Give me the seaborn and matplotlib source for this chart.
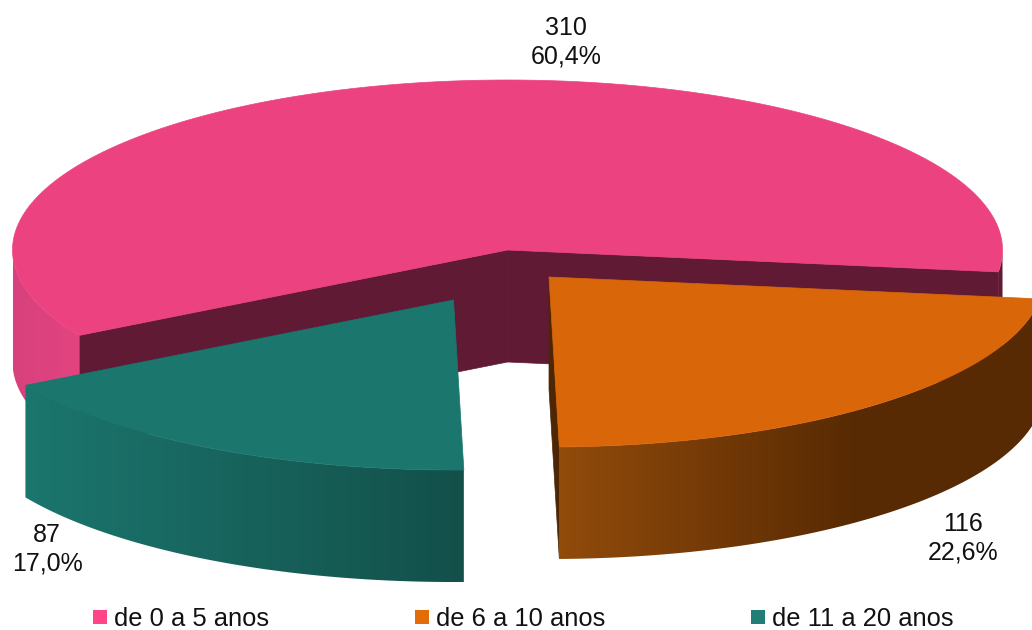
import numpy as np
import matplotlib
matplotlib.use('Agg')
import matplotlib.pyplot as plt
from matplotlib.colors import ListedColormap
from matplotlib.patches import Polygon
import seaborn as sns

# Data
categories = ['de 0 a 5 anos', 'de 6 a 10 anos', 'de 11 a 20 anos']
counts = [310, 116, 87]
percents = ['60,4%', '22,6%', '17,0%']

sns.set_theme(style='white')
plt.rcParams['font.family'] = ['Liberation Sans', 'DejaVu Sans']

top_colors = ['#EC4380', '#D96608', '#1B766E']
legend_colors = ['#FF4488', '#E36C09', '#1F7F76']
inner_colors = ['#601A33', '#4F2603', '#135049']

# Pie geometry in pixels
rx, ry, depth = 495, 170, 112
start = -7.4
centers = [(507.5, 250), (549, 277), (453.5, 300)]

# Slice angles from the values, drawn counter-clockwise: pink, teal, orange
shares = np.array(counts) / sum(counts) * 360
spans = {0: (start, start + shares[0]),
         2: (start + shares[0], start + shares[0] + shares[2]),
         1: (start + shares[0] + shares[2], start + 360)}


def rim(i, a0, a1, n=120):
    t = np.radians(np.linspace(a0, a1, n))
    cx, cy = centers[i]
    return np.column_stack([cx + rx * np.cos(t), cy - ry * np.sin(t)])


def radial_wall(ax, i, angle, color, z):
    cx, cy = centers[i]
    edge = rim(i, angle, angle, 1)[0]
    pts = [(cx, cy), edge, (edge[0], edge[1] + depth), (cx, cy + depth)]
    ax.add_patch(Polygon(pts, closed=True, fc=color, ec=color, lw=0.5, zorder=z))


def outer_wall(ax, i, a0, a1, light, dark, z, flat_after=1.0):
    # shaded side of a slice: a left to right gradient clipped to the wall shape
    pts = rim(i, a0, a1, 120)
    shape = np.vstack([pts, pts[::-1] + [0, depth]])
    lo, hi = shape[:, 0].min(), shape[:, 0].max()
    bottom, top = shape[:, 1].max(), shape[:, 1].min()
    cmap = ListedColormap(sns.blend_palette([light, dark], 256))
    grad = np.clip(np.linspace(0, 1, 512) / flat_after, 0, 1).reshape(1, -1)
    clip = Polygon(shape, closed=True, fc='none', ec='none', transform=ax.transData)
    ax.add_patch(clip)
    im = ax.imshow(grad, cmap=cmap, vmin=0, vmax=1, aspect='auto',
                   extent=(lo, hi, bottom, top), zorder=z, interpolation='bilinear')
    im.set_clip_path(clip)


fig = plt.figure(figsize=(10.32, 6.3), dpi=100)
ax = fig.add_axes([0, 0, 1, 1])

# pink slice: side walls first, then top
a0, a1 = spans[0]
outer_wall(ax, 0, a0, 0, inner_colors[0], inner_colors[0], 1)
radial_wall(ax, 0, a0, inner_colors[0], 1)
radial_wall(ax, 0, a1, inner_colors[0], 1)
outer_wall(ax, 0, 180, a1, '#D8417D', '#E34480', 1)
ax.add_patch(Polygon(np.vstack([centers[0], rim(0, a0, a1, 240)]), closed=True,
                     fc=top_colors[0], ec=top_colors[0], lw=0.5, zorder=2))

# orange slice
a0, a1 = spans[1]
radial_wall(ax, 1, a0, inner_colors[1], 3)
outer_wall(ax, 1, a0, a1, '#914B0B', '#582A03', 3, flat_after=0.62)
ax.add_patch(Polygon(np.vstack([centers[1], rim(1, a0, a1)]), closed=True,
                     fc=top_colors[1], ec=top_colors[1], lw=0.5, zorder=4))

# teal slice
a0, a1 = spans[2]
outer_wall(ax, 2, a0, a1, '#1B766E', '#13504A', 5)
ax.add_patch(Polygon(np.vstack([centers[2], rim(2, a0, a1)]), closed=True,
                     fc=top_colors[2], ec=top_colors[2], lw=0.5, zorder=6))

# value labels
label_pos = [(566, 42.5), (963, 538), (47, 549)]
for (x, y), n, pct in zip(label_pos, counts, percents):
    ax.text(x, y, f'{n}\n{pct}', ha='center', va='center', fontsize=18,
            color='#111111', linespacing=1.25, zorder=10)

# legend
legend_x = [93, 415, 751]
for x, lab, c in zip(legend_x, categories, legend_colors):
    ax.scatter([x + 7], [617], marker='s', s=101, color=c, linewidths=0, zorder=10)
    ax.text(x + 20.5, 619, lab, ha='left', va='center', fontsize=18.4, color='#111111', zorder=10)

ax.set_xlim(0, 1032)
ax.set_ylim(630, 0)
ax.axis('off')

fig.savefig('out.png', dpi=100)
